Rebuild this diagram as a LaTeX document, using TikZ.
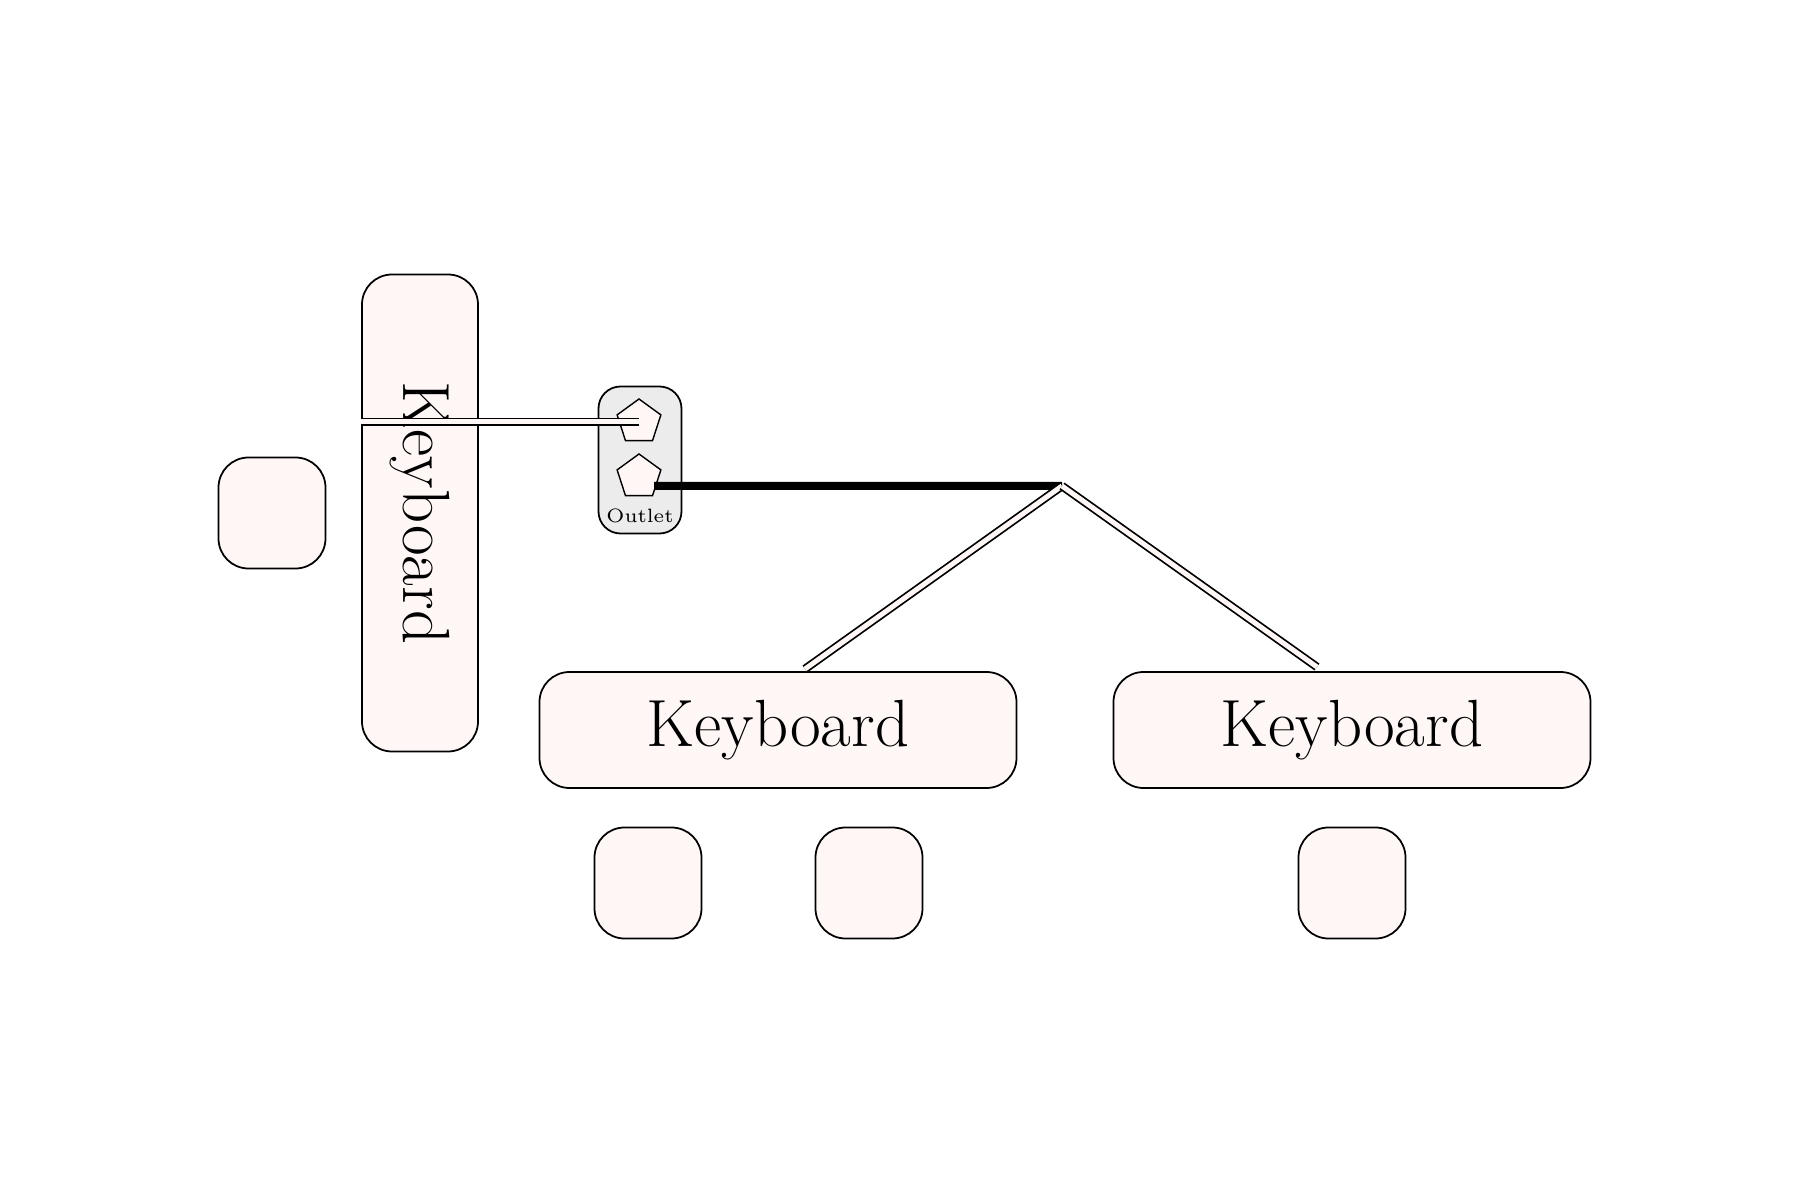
\documentclass[tikz,border=0pt]{standalone}
\usetikzlibrary{shapes.geometric}
\definecolor{shellpink}{RGB}{255,246,246}
\begin{document}
\begin{tikzpicture}[
        box/.style={draw, rounded corners=0.3cm, fill=shellpink, line width=0.5pt, inner sep=0pt},
        keyboard/.style={box, minimum width=4.77cm, minimum height=1.16cm, font=\fontsize{19}{22}\selectfont},
        pad/.style={box, minimum width=1.07cm, minimum height=1.11cm},
        plug/.style={regular polygon, regular polygon sides=5, draw, fill=shellpink, minimum size=0.46cm, inner sep=0pt},
        cable/.style={draw=black, double=shellpink, double distance=0.05cm, line width=0.5pt},
        power/.style={line width=0.08cm, black}
    ]
        \useasboundingbox (0,0) rectangle (18,12);

        % Keyboards
        \node[keyboard, rotate=-90] (kbL) at (4.20, 6.87) {Keyboard};
        \node[keyboard] (kbA) at (7.78, 4.70) {Keyboard};
        \node[keyboard] (kbB) at (13.52, 4.70) {Keyboard};

        % Pads
        \node[pad] (padL) at (2.72, 6.87) {};
        \node[pad] (pad1) at (6.48, 3.17) {};
        \node[pad] (pad2) at (8.69, 3.17) {};
        \node[pad] (pad3) at (13.52, 3.17) {};

        % Outlet
        \node[box, fill=gray!15, minimum width=0.83cm, minimum height=1.47cm, rounded corners=0.22cm] (outlet) at (6.40, 7.40) {};
        \node[plug] (plugA) at (6.39, 7.78) {};
        \node[plug] (plugB) at (6.39, 7.23) {};
        \node[font=\fontsize{5.5}{6}\selectfont] (outletlabel) at (6.40, 6.84) {Outlet};

        % Cables
        \coordinate (split) at (10.62, 7.14);
        \coordinate (endA) at (8.05, 5.31);
        \coordinate (endB) at (13.17, 5.33);
        \draw[cable] (kbL.south |- plugA) -- (plugA.center);
        \draw[power] (plugB.center) ++(0.15,-0.09) coordinate (plugBout) -- (split);
        \draw[cable] (split) -- (endA);
        \draw[cable] (split) -- (endB);
\end{tikzpicture}
\end{document}
